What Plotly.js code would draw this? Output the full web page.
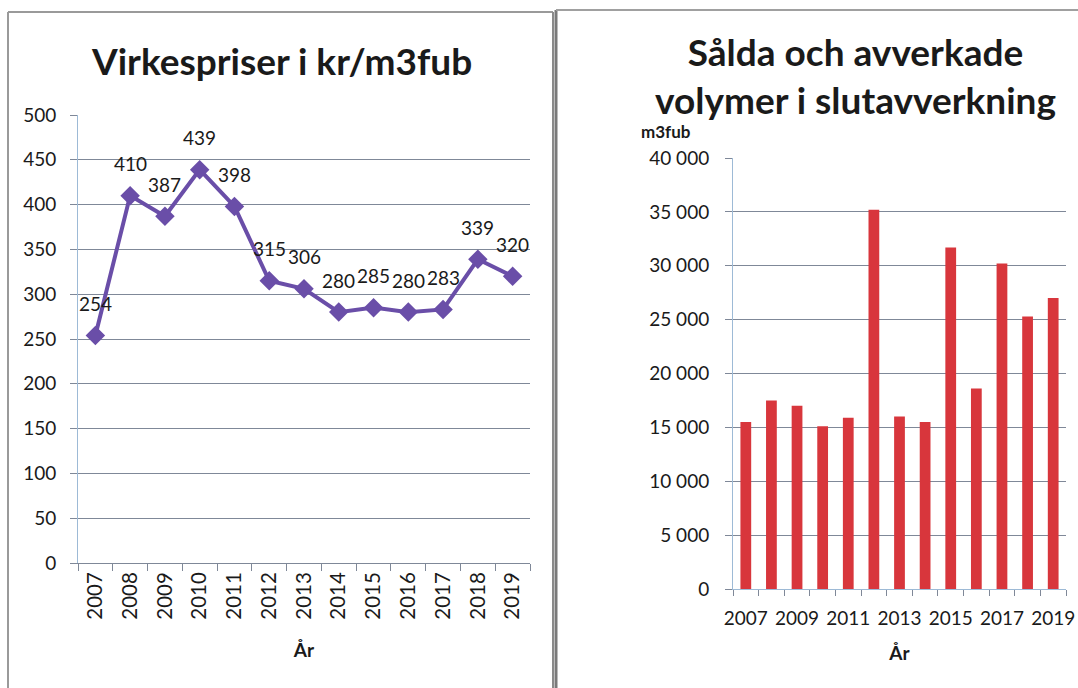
<!DOCTYPE html>
<html>
<head>
<meta charset="utf-8">
<script src="https://cdn.plot.ly/plotly-3.0.1.min.js"></script>
<style>
  html, body { margin: 0; padding: 0; background: #ffffff; }
  #chart { width: 1078px; height: 688px; }
</style>
</head>
<body>
<div id="chart"></div>
<script>
// ---- Data ----
const years = ['2007','2008','2009','2010','2011','2012','2013','2014','2015','2016','2017','2018','2019'];
const prices = [254, 410, 387, 439, 398, 315, 306, 280, 285, 280, 283, 339, 320];
const volumes = [15500, 17500, 17000, 15100, 15900, 35200, 16000, 15500, 31700, 18600, 30200, 25300, 27000];
const leftTitle = 'Virkespriser i kr/m3fub';
const rightTitle = 'Sålda och avverkade<br>volymer i slutavverkning';
const xAxisTitle = 'År';
const rightUnit = 'm3fub';

const yearNums = years.map(Number);
const volTickYears = yearNums.filter(y => y % 2 === 1);

const FONT = 'Lato, "Open Sans", "DejaVu Sans", sans-serif';
const W = 1078, H = 688;
const px = x => x / W;
const py = y => 1 - y / H;

const traces = [
  {
    type: 'scatter', mode: 'lines+markers',
    x: years, y: prices, xaxis: 'x', yaxis: 'y',
    line: { color: '#6a4ea8', width: 4 },
    marker: { symbol: 'diamond', size: 15, color: '#6a4ea8' },
    hoverinfo: 'x+y', showlegend: false
  },
  {
    type: 'bar',
    x: yearNums, y: volumes, xaxis: 'x2', yaxis: 'y2',
    marker: { color: '#d8363c', line: { width: 0 } },
    hoverinfo: 'x+y', showlegend: false
  }
];

// data labels: x given as the category's serial index on the category axis
const labelAnnotations = years.map((yr, i) => ({
  xref: 'x', yref: 'y', x: i, y: prices[i],
  text: String(prices[i]), showarrow: false, yshift: 32,
  font: { family: FONT, size: 19, color: '#1a1a1a' }
}));

const gridColor = '#7f8898';
const axisBlue = '#9dbad6';

const layout = {
  width: W, height: H,
  margin: { l: 0, r: 0, t: 0, b: 0, pad: 0 },
  paper_bgcolor: '#ffffff', plot_bgcolor: 'rgba(0,0,0,0)',
  separators: ', ',
  font: { family: FONT, size: 19, color: '#1a1a1a' },
  showlegend: false,
  bargap: 0.58,
  xaxis: {
    domain: [px(78), px(530)], anchor: 'y', type: 'category',
    range: [-0.5, years.length - 0.5], autorange: false,
    showline: true, linecolor: gridColor, linewidth: 1,
    ticks: 'outside', ticklen: 7, tickcolor: gridColor, tickson: 'boundaries',
    tickangle: -90, tickfont: { family: FONT, size: 20.5, color: '#1a1a1a' },
    showgrid: false, automargin: false,
    title: { text: xAxisTitle, standoff: 24, font: { family: FONT, size: 19, color: '#1a1a1a', weight: 'bold' } }
  },
  yaxis: {
    domain: [py(563), py(115)], anchor: 'x', range: [0, 500], dtick: 50,
    showline: true, linecolor: axisBlue, linewidth: 1,
    ticks: 'outside', ticklen: 7, tickcolor: gridColor,
    showgrid: true, gridcolor: gridColor, gridwidth: 1,
    zeroline: false, automargin: false, ticklabelstandoff: 10,
    tickfont: { family: FONT, size: 19, color: '#1a1a1a' }
  },
  xaxis2: {
    domain: [px(733), px(1066)], anchor: 'y2', type: 'linear',
    range: [2006.5, 2019.5],
    tickvals: volTickYears, ticktext: volTickYears.map(String),
    ticks: 'outside', ticklen: 12, tickcolor: 'rgba(0,0,0,0)',
    minor: { tick0: 2006.5, dtick: 1, ticks: 'outside', ticklen: 6, tickcolor: gridColor, showgrid: false },
    showline: true, linecolor: axisBlue, linewidth: 1,
    showgrid: false, zeroline: false, automargin: false,
    tickfont: { family: FONT, size: 19, color: '#1a1a1a' },
    title: { text: xAxisTitle, standoff: 18, font: { family: FONT, size: 19, color: '#1a1a1a', weight: 'bold' } }
  },
  yaxis2: {
    domain: [py(589), py(158)], anchor: 'x2', range: [0, 40000], dtick: 5000,
    tickformat: ',d',
    showline: true, linecolor: axisBlue, linewidth: 1,
    ticks: 'outside', ticklen: 7, tickcolor: gridColor,
    showgrid: true, gridcolor: gridColor, gridwidth: 1,
    zeroline: false, automargin: false, ticklabelstandoff: 12,
    tickfont: { family: FONT, size: 19, color: '#1a1a1a' }
  },
  annotations: labelAnnotations.concat([
    {
      xref: 'paper', yref: 'paper', x: px(281), y: py(60),
      xanchor: 'center', yanchor: 'middle', showarrow: false,
      text: '<b>' + leftTitle + '</b>',
      font: { family: FONT, size: 37, color: '#1a1a1a' }
    },
    {
      xref: 'paper', yref: 'paper', x: px(855), y: py(76),
      xanchor: 'center', yanchor: 'middle', showarrow: false,
      text: '<b>' + rightTitle + '</b>',
      font: { family: FONT, size: 37, color: '#1a1a1a' }
    },
    {
      xref: 'paper', yref: 'paper', x: px(666), y: py(131),
      xanchor: 'center', yanchor: 'middle', showarrow: false,
      text: '<b>' + rightUnit + '</b>',
      font: { family: FONT, size: 17, color: '#1a1a1a' }
    }
  ]),
  shapes: [
    { type: 'line', xref: 'paper', yref: 'paper', x0: px(8), x1: px(8), y0: py(12), y1: 0, line: { color: '#9a9a9a', width: 2 } },
    { type: 'line', xref: 'paper', yref: 'paper', x0: px(8), x1: px(553), y0: py(12), y1: py(12), line: { color: '#9a9a9a', width: 2 } },
    { type: 'line', xref: 'paper', yref: 'paper', x0: px(553), x1: px(553), y0: py(12), y1: 0, line: { color: '#8a8a8a', width: 2 } },
    { type: 'line', xref: 'paper', yref: 'paper', x0: px(556), x1: px(556), y0: py(10), y1: 0, line: { color: '#7a7a7a', width: 3 } },
    { type: 'line', xref: 'paper', yref: 'paper', x0: px(556), x1: 1, y0: py(10), y1: py(10), line: { color: '#a0a0a0', width: 2 } }
  ]
};

Plotly.newPlot('chart', traces, layout, { staticPlot: true, displayModeBar: false });
</script>
</body>
</html>
